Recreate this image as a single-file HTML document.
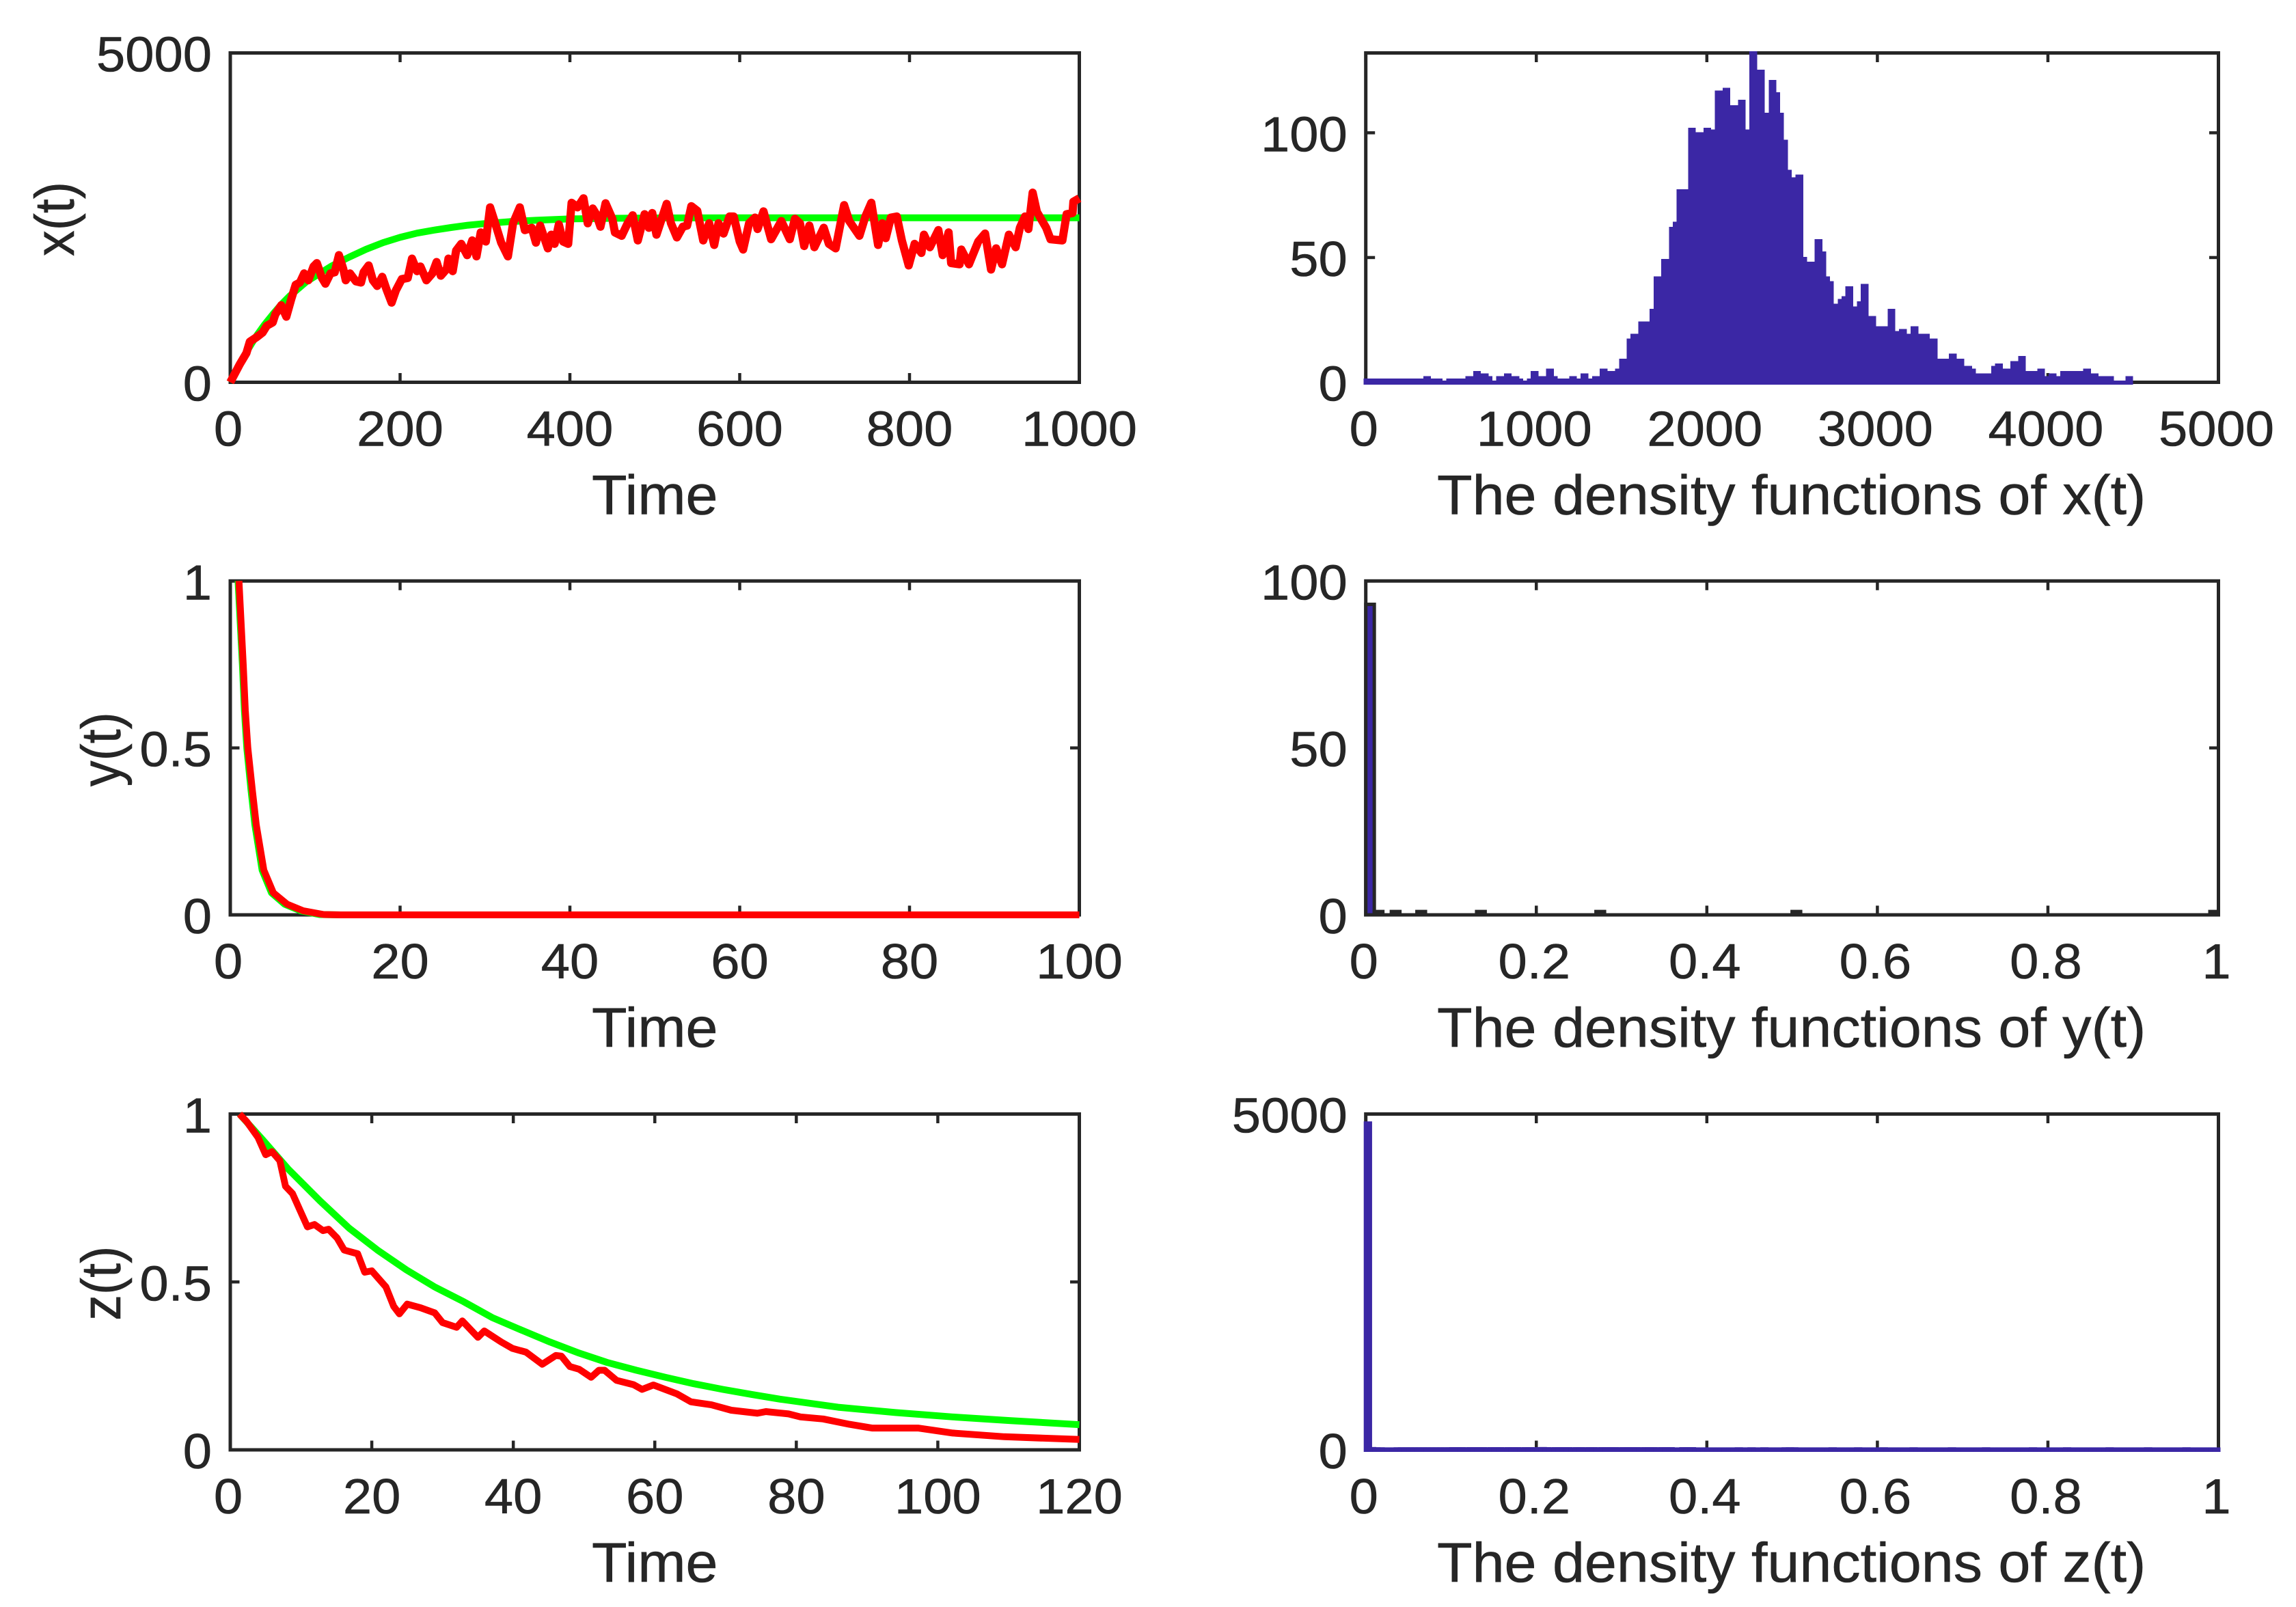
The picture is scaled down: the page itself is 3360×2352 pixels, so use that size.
<!DOCTYPE html>
<html>
<head>
<meta charset="utf-8">
<title>Stochastic trajectories and density functions</title>
<style>
html,body{margin:0;padding:0;background:#fff;}
svg{display:block;}
text{font-family:"Liberation Sans",Arial,sans-serif;fill:#262626;stroke:#262626;stroke-width:0.6;}
</style>
</head>
<body>
<svg id="figure" xmlns="http://www.w3.org/2000/svg" width="3360" height="2352" viewBox="0 0 3360 2352"></svg>
<script>
/* ---------- x(t) time series ---------- */
const xRedTimes = [0,11,19,23,31,38,43,50,53,60,66,72,77,82,87,92,98,102,108,112,118,123,128,133,136,141,148,154,157,163,168,173,179,184,190,195,202,209,214,220,224,231,238,243,248,255,257,262,266,272,279,285,290,295,301,306,312,319,327,333,341,347,355,360,365,374,378,382,387,392,398,402,409,416,421,427,431,436,442,450,453,461,468,474,480,488,493,497,502,514,519,526,533,538,543,550,557,564,570,575,581,588,593,600,604,611,618,621,628,637,649,659,665,671,676,682,688,699,705,713,723,729,741,748,755,763,768,772,778,785,791,799,806,814,817,824,834,839,846,849,859,861,870,881,889,896,902,909,917,925,930,936,940,945,950,961,966,980,985,992,993,1000];
const xRedValues = [0,270,443,616,685,754,858,909,1030,1169,996,1273,1480,1515,1653,1549,1757,1809,1584,1497,1653,1670,1930,1722,1549,1653,1532,1515,1670,1774,1549,1463,1601,1411,1210,1394,1566,1584,1878,1688,1757,1549,1653,1826,1618,1722,1878,1688,1999,2102,1930,2154,1912,2275,2137,2656,2414,2120,1912,2414,2656,2310,2345,2120,2379,2033,2241,2102,2396,2137,2102,2725,2656,2794,2414,2638,2552,2362,2718,2483,2275,2224,2414,2535,2154,2552,2345,2569,2241,2708,2414,2199,2362,2379,2673,2604,2154,2414,2085,2414,2258,2517,2517,2137,2016,2414,2500,2327,2594,2172,2448,2172,2483,2414,2068,2379,2051,2345,2102,2033,2690,2448,2224,2517,2725,2085,2414,2189,2500,2517,2154,1774,2102,1964,2241,2051,2310,1930,2275,1809,1791,2016,1791,2137,2258,1712,2033,1791,2241,2051,2345,2517,2327,2880,2587,2345,2172,2154,2552,2569,2742,2794];
const xGreenTimes = [0,10,20,30,40,50,60,70,80,90,100,120,140,160,180,200,220,240,260,280,300,330,360,400,450,500,600,700,800,900,1000];
const xGreenValues = [0,250,480,690,870,1030,1180,1310,1420,1530,1610,1770,1900,2020,2120,2200,2265,2310,2350,2385,2410,2440,2460,2480,2490,2495,2497,2497,2497,2497,2497];
const xPlotXTicks = [0,200,400,600,800,1000];
const xPlotYTicks = [0,5000];

/* ---------- y(t) time series ---------- */
const yRedTimes = [1.02,1.53,1.77,2.07,2.6,3.06,3.95,5.07,6.7,8.6,11,13,100];
const yRedValues = [1,0.748,0.612,0.5,0.373,0.27,0.134,0.066,0.032,0.012,0.001,0,0];
const yGreenTimes = [0.92,1.43,1.67,1.95,2.45,2.9,3.75,4.85,6.4,8.3,10.5,13,100];
const yGreenValues = [1,0.748,0.612,0.5,0.373,0.27,0.134,0.066,0.032,0.012,0.001,0,0];
const yPlotXTicks = [0,20,40,60,80,100];
const yPlotYTicks = [0,0.5,1];

/* ---------- z(t) time series ---------- */
const zRedTimes = [1.3,2.3,3.9,5,5.9,7,7.8,8.8,10.9,11.9,13.1,13.9,15.1,16.1,18,19,20,22,23.1,23.9,25,26.9,28.9,30,32,32.8,35,35.9,38.3,39.9,41.8,44.1,46,46.8,48,49.3,51,52.1,52.9,54.6,57,58.2,59.8,63.1,65.1,68,70.8,74.5,75.7,78.9,80.6,83.8,87.5,90.7,97.2,102.1,109.4,120];
const zRedValues = [1,0.978,0.931,0.879,0.888,0.861,0.785,0.763,0.664,0.671,0.653,0.657,0.631,0.595,0.584,0.529,0.533,0.485,0.427,0.405,0.434,0.423,0.408,0.379,0.365,0.384,0.335,0.354,0.321,0.302,0.291,0.255,0.281,0.279,0.248,0.24,0.216,0.237,0.237,0.207,0.194,0.18,0.193,0.167,0.143,0.134,0.118,0.109,0.114,0.107,0.098,0.092,0.076,0.065,0.065,0.05,0.039,0.031];
const zGreenTimes = [1.3,4.6,8.2,12.7,16.8,20.8,24.9,28.9,33,37,41.1,45.2,49.3,53.3,57.4,61.5,65.5,69.6,73.7,77.7,85.9,94,102.1,110.3,120];
const zGreenValues = [1,0.923,0.836,0.741,0.66,0.595,0.536,0.485,0.441,0.394,0.357,0.321,0.288,0.26,0.237,0.216,0.197,0.18,0.165,0.151,0.127,0.111,0.098,0.087,0.075];
const zPlotXTicks = [0,20,40,60,80,100,120];
const zPlotYTicks = [0,0.5,1];

/* ---------- density of x(t): 200 bins, width 22.5 ---------- */
const xDensityBinWidth = 22.5;
const xDensityCounts = [
1.5,1.5,1.5,1.5,1.5,1.5,1.5,1.5,1.5,1.5,1.5,1.5,1.5,1.5,1.5,2.5,2.5,1.5,1.5,1.5,
0.7,1.5,1.5,1.5,1.5,1.5,2.5,2.5,4.5,4.5,3.6,3.6,2.5,0.7,2.5,2.5,3.6,3.6,2.5,2.5,
1.5,0.7,1.5,4.5,4.5,2.5,2.5,5.5,5.5,2.5,1.5,1.5,1.5,2.5,2.5,1.5,3.6,3.6,1.5,2.5,
2.5,5.5,5.5,4.5,4.5,5.5,9.4,9.4,17.5,19.5,19.5,24.4,24.4,24.4,29.5,42.4,42.4,49.5,49.5,62.3,
64.4,77.3,77.3,77.3,102,102,100.2,100.2,102,102,101.3,117,117,118,118,111,111,113.3,113.3,101.3,
132.7,132.7,125.3,125.3,108,121.2,121.2,116.2,108,97.2,85.2,82.2,83.3,83.3,50.3,48.4,48.4,57.4,57.4,52.5,
42.4,40.5,31.5,33.4,34.5,38.5,38.5,30.4,32.5,39.4,39.4,26.5,26.5,22.5,22.5,22.5,29.5,29.5,20.5,21.4,
21.4,19.5,22.5,22.5,19.5,19.5,19.5,17.5,17.5,9.4,9.4,9.4,11.5,11.5,9.4,9.4,6.6,6.6,5.5,3.6,
3.6,3.6,3.6,6.6,7.5,7.5,5.5,5.5,8.5,8.5,10.5,10.5,4.5,4.5,4.5,5.5,5.5,2.5,3.6,3.6,
2.5,4.5,4.5,4.5,4.5,4.5,4.5,5.5,5.5,3.6,3.6,2.5,2.5,2.5,2.5,0.7,0.7,0.7,2.5,2.5];
const xDensityXTicks = [0,1000,2000,3000,4000,5000];
const xDensityYTicks = [0,50,100];

/* ---------- density of y(t): 100 bins, width 0.01 ---------- */
const yDensityBinWidth = 0.01;
const yDensityCounts = [
93,1,0,1,0,0,1,0,0,0,0,0,0,1,0,0,0,0,0,0,
0,0,0,0,0,0,0,1,0,0,0,0,0,0,0,0,0,0,0,0,
0,0,0,0,0,0,0,0,0,0,1,0,0,0,0,0,0,0,0,0,
0,0,0,0,0,0,0,0,0,0,0,0,0,0,0,0,0,0,0,0,
0,0,0,0,0,0,0,0,0,0,0,0,0,0,0,0,0,0,0,1];
const yDensityXTicks = [0,0.2,0.4,0.6,0.8,1];
const yDensityYTicks = [0,50,100];

/* ---------- density of z(t): 200 bins, width 0.005 ---------- */
const zDensityBinWidth = 0.005;
const zDensityCounts = [
4860,12,8,8,6,6,6,8,8,8,8,8,8,8,8,8,8,8,8,8,
10,10,10,6,10,10,10,10,6,10,10,10,6,10,10,10,6,10,10,6,
10,12,10,6,10,10,10,10,6,10,10,6,10,10,6,10,10,10,10,6,
10,10,10,10,6,10,10,10,6,10,10,10,6,6,10,10,10,6,6,6,
6,6,6,6,6,6,6,8,6,6,8,6,6,8,6,6,6,6,8,8,
8,6,6,6,6,6,6,6,6,8,6,6,6,6,6,8,6,6,6,6,
6,8,6,6,6,6,6,6,8,6,6,6,6,6,6,6,6,8,6,6,
6,6,6,6,6,8,6,6,6,6,6,6,6,6,6,6,8,6,6,6,
6,6,6,6,8,6,6,6,6,6,6,6,6,6,8,6,6,6,6,6,
6,6,6,8,6,6,6,6,6,6,6,6,8,6,6,6,6,6,6,6];
const zDensityXTicks = [0,0.2,0.4,0.6,0.8,1];
const zDensityYTicks = [0,5000];

/* ---------- axis label text ---------- */
const timeAxisTitle = "Time";
const xDensityTitle = "The density functions of x(t)";
const yDensityTitle = "The density functions of y(t)";
const zDensityTitle = "The density functions of z(t)";

/* ---------- drawing ---------- */
const SVGNS = "http://www.w3.org/2000/svg";
const root = document.getElementById("figure");
const INK = "#262626";
const GREEN = "#00ff00";
const RED = "#ff0000";
const PURPLE = "#3b27a5";
const COLS = [[337, 1579.5], [1998.7, 3246.5]];
const ROWS = [[77.5, 559.5], [850.3, 1339], [1630.5, 2122]];

function make(tag, parent, attrs) {
  const node = document.createElementNS(SVGNS, tag);
  for (const key in attrs) node.setAttribute(key, attrs[key]);
  parent.appendChild(node);
  return node;
}

function createAxes(name, col, row, xMax, yMax, xTicks, yTicks, xTitle, yTitle, yTitleX) {
  const [left, right] = COLS[col];
  const [top, bottom] = ROWS[row];
  const sx = v => left + (v / xMax) * (right - left);
  const sy = v => bottom - (v / yMax) * (bottom - top);

  const group = make("g", root, {});
  
  

  const frame = make("rect", group, {x: left, y: top, width: right - left, height: bottom - top, fill: "none", stroke: INK, "stroke-width": 5});
  
  

  xTicks.forEach(v => {
    const bottomTick = make("line", group, {x1: sx(v), x2: sx(v), y1: bottom, y2: bottom - 13.5, stroke: INK, "stroke-width": 4.5});
    
    
    const topTick = make("line", group, {x1: sx(v), x2: sx(v), y1: top, y2: top + 13.5, stroke: INK, "stroke-width": 4.5});
    
    
    const shift = col === 1 ? -3 : (v === 0 ? -3 : 0);
    const label = make("text", group, {transform: `translate(${sx(v) + shift},${bottom + 93}) scale(1.055,1)`, "text-anchor": "middle", "font-size": 72});
    label.textContent = String(v);
    
    
  });

  yTicks.forEach(v => {
    const leftTick = make("line", group, {x1: left, x2: left + 13.5, y1: sy(v), y2: sy(v), stroke: INK, "stroke-width": 4.5});
    
    
    const rightTick = make("line", group, {x1: right, x2: right - 13.5, y1: sy(v), y2: sy(v), stroke: INK, "stroke-width": 4.5});
    
    
    const label = make("text", group, {transform: `translate(${left - 27},${sy(v) + 27}) scale(1.055,1)`, "text-anchor": "end", "font-size": 72});
    label.textContent = String(v);
    
    
  });

  const xt = make("text", group, {transform: `translate(${(left + right) / 2 - (col === 1 ? 1 : 0)},${bottom + 193}) scale(1.03,1)`, "text-anchor": "middle", "font-size": 82});
  xt.textContent = xTitle;
  
  

  if (yTitle) {
    const cy = (top + bottom) / 2 + 2;
    const yt = make("text", group, {transform: `translate(${yTitleX},${cy}) rotate(-90) scale(0.92,1)`, "text-anchor": "middle", "font-size": 82});
    yt.textContent = yTitle;
    
    
  }
  return {group, sx, sy, bottom};
}

function drawLine(axes, times, values, color, name, width) {
  const pts = times.map((t, i) => axes.sx(t).toFixed(1) + "," + axes.sy(values[i]).toFixed(1)).join(" ");
  const line = make("polyline", axes.group, {points: pts, fill: "none", stroke: color, "stroke-width": width, "stroke-linejoin": "round", "stroke-linecap": "butt"});
  
  
}

/* time-series panels */
const axX = createAxes("x-time-series-panel", 0, 0, 1000, 5000, xPlotXTicks, xPlotYTicks, timeAxisTitle, "x(t)", 108);
drawLine(axX, xGreenTimes, xGreenValues, GREEN, "x-deterministic-line", 10);
drawLine(axX, xRedTimes, xRedValues, RED, "x-stochastic-line", 12);

const axY = createAxes("y-time-series-panel", 0, 1, 100, 1, yPlotXTicks, yPlotYTicks, timeAxisTitle, "y(t)", 176);
drawLine(axY, yGreenTimes, yGreenValues, GREEN, "y-deterministic-line", 10);
drawLine(axY, yRedTimes, yRedValues, RED, "y-stochastic-line", 10);

const axZ = createAxes("z-time-series-panel", 0, 2, 120, 1, zPlotXTicks, zPlotYTicks, timeAxisTitle, "z(t)", 176);
drawLine(axZ, zGreenTimes, zGreenValues, GREEN, "z-deterministic-line", 10);
drawLine(axZ, zRedTimes, zRedValues, RED, "z-stochastic-line", 10);

/* density of x(t): flat filled bars */
const dX = createAxes("x-density-panel", 1, 0, 5000, 132, xDensityXTicks, xDensityYTicks, xDensityTitle, null, 0);
const dXBars = make("g", dX.group, {"shape-rendering": "crispEdges"});


xDensityCounts.forEach((c, i) => {
  const x0 = dX.sx(i * xDensityBinWidth) - (i === 0 ? 3.3 : 0);
  const x1 = dX.sx((i + 1) * xDensityBinWidth);
  const yTop = dX.sy(c);
  const bar = make("rect", dXBars, {x: x0, y: yTop, width: x1 - x0, height: dX.bottom + 3.3 - yTop, fill: PURPLE});
  
  
});

/* density of y(t): bars with dark edges */
const dY = createAxes("y-density-panel", 1, 1, 1, 100, yDensityXTicks, yDensityYTicks, yDensityTitle, null, 0);
yDensityCounts.forEach((c, i) => {
  if (c <= 0) return;
  const x0 = dY.sx(i * yDensityBinWidth);
  const x1 = dY.sx((i + 1) * yDensityBinWidth);
  const yTop = dY.sy(c);
  const bar = make("rect", dY.group, {x: x0, y: yTop, width: x1 - x0, height: dY.bottom - yTop, fill: PURPLE, stroke: INK, "stroke-width": 5});
  
  
});

/* density of z(t): bars with purple edges */
const dZ = createAxes("z-density-panel", 1, 2, 1, 5000, zDensityXTicks, zDensityYTicks, zDensityTitle, null, 0);
zDensityCounts.forEach((c, i) => {
  const x0 = dZ.sx(i * zDensityBinWidth);
  const x1 = dZ.sx((i + 1) * zDensityBinWidth);
  const yTop = dZ.sy(c);
  const bar = make("rect", dZ.group, {x: x0, y: yTop, width: x1 - x0, height: dZ.bottom - yTop, fill: PURPLE, stroke: PURPLE, "stroke-width": 6});
  
  
});
</script>
</body>
</html>
